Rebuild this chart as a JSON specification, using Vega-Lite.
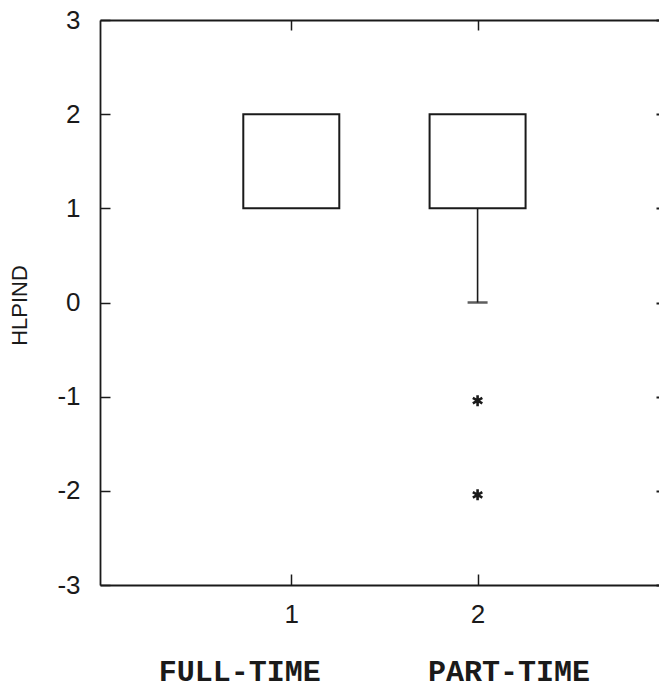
{
  "$schema": "https://vega.github.io/schema/vega-lite/v6.json",
  "width": 559,
  "height": 565,
  "autosize": {"type": "none"},
  "padding": {"left": 100, "top": 20, "right": 0, "bottom": 105},
  "background": "white",
  "config": {
    "view": {"stroke": null},
    "axis": {"grid": false, "domainColor": "#1a1a1a", "tickColor": "#1a1a1a", "labelColor": "#1a1a1a", "titleColor": "#1a1a1a", "domainWidth": 1.8, "tickWidth": 1.5, "labelFont": "Liberation Sans", "titleFont": "Liberation Sans", "titleFontWeight": "normal"}
  },
  "datasets": {
    "boxes": [{"group": 1, "q1": 1, "q3": 2}, {"group": 2, "q1": 1, "q3": 2}],
    "whiskers": [{"group": 2, "low": 0, "q1": 1}],
    "outliers": [{"group": 2, "value": -1}, {"group": 2, "value": -2}]
  },
  "resolve": {"axis": {"x": "independent", "y": "independent"}},
  "layer": [
    {
      "data": {"name": "boxes"},
      "mark": {"type": "bar", "width": 96, "fill": "white", "stroke": "#1a1a1a", "strokeWidth": 2},
      "encoding": {
        "x": {"field": "group", "type": "quantitative", "scale": {"domain": [0, 2.947], "nice": false, "zero": false},
          "axis": {"orient": "bottom", "values": [1, 2], "labelExpr": "'' + datum.value", "tickSize": -11, "labelPadding": 27, "labelFontSize": 26, "title": null}},
        "y": {"field": "q1", "type": "quantitative", "scale": {"domain": [-3, 3], "nice": false, "zero": false},
          "axis": {"orient": "left", "values": [-3, -2, -1, 0, 1, 2, 3], "labelExpr": "datum.value < 0 ? '-' + abs(datum.value) : '' + datum.value", "tickSize": -10, "labelPadding": 30, "labelFontSize": 26,
            "title": "HLPIND", "titleFontSize": 22, "titleAngle": -90, "titleX": -81, "titleY": 285, "titleAlign": "center", "titleBaseline": "middle"}},
        "y2": {"field": "q3"}
      }
    },
    {
      "data": {"name": "whiskers"},
      "mark": {"type": "rule", "stroke": "#1a1a1a", "strokeWidth": 1.6},
      "encoding": {
        "x": {"field": "group", "type": "quantitative",
          "axis": {"orient": "bottom", "values": [1, 2], "domain": false, "ticks": false, "labelPadding": 95, "labelBaseline": "alphabetic",
            "labelExpr": "datum.value == 1 ? 'FULL-TIME' : 'PART-TIME'", "labelFont": "Liberation Mono", "labelFontWeight": "bold", "labelFontSize": 30,
            "labelOffset": {"condition": {"test": "datum.value == 1", "value": -52}, "value": 31}, "title": null}},
        "y": {"field": "low", "type": "quantitative",
          "axis": {"orient": "right", "values": [-3, -2, -1, 0, 1, 2, 3], "domain": false, "labels": false, "tickSize": -3, "tickWidth": 2, "title": null}},
        "y2": {"field": "q1"}
      }
    },
    {
      "data": {"name": "whiskers"},
      "mark": {"type": "tick", "orient": "horizontal", "size": 20, "thickness": 2.5, "color": "#1a1a1a"},
      "encoding": {
        "x": {"field": "group", "type": "quantitative",
          "axis": {"orient": "top", "values": [1, 2], "labels": false, "tickSize": -10, "title": null}},
        "y": {"field": "low", "type": "quantitative", "axis": null}
      }
    },
    {
      "data": {"name": "outliers"},
      "mark": {"type": "point", "shape": "M0,-1L0,1M-0.866,-0.5L0.866,0.5M-0.866,0.5L0.866,-0.5", "size": 120, "filled": false, "stroke": "#1a1a1a", "strokeWidth": 2.6, "opacity": 1, "yOffset": 4},
      "encoding": {
        "x": {"field": "group", "type": "quantitative", "axis": null},
        "y": {"field": "value", "type": "quantitative", "axis": null}
      }
    }
  ]
}
